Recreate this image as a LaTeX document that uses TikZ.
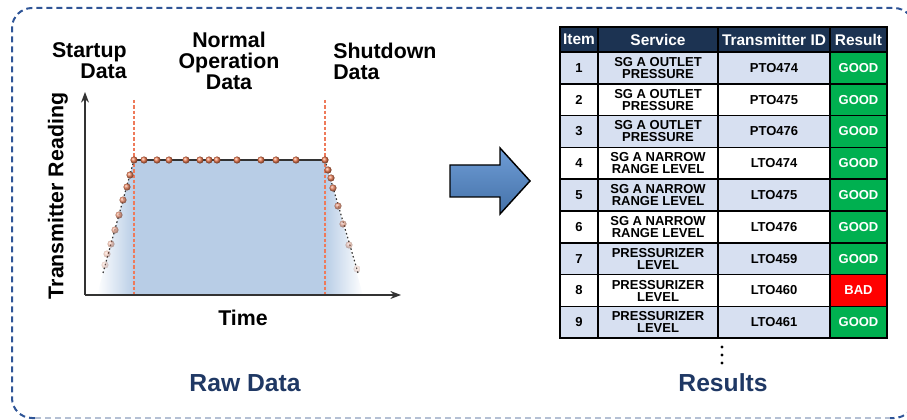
\documentclass[tikz,border=0pt]{standalone}
\usepackage{fontspec}
\setmainfont{Liberation Sans}
\usetikzlibrary{arrows.meta,shadings}
\definecolor{navy}{HTML}{1F3864}
\definecolor{frameblue}{HTML}{2F5597}
\definecolor{framegrey}{HTML}{B4C0D4}
\definecolor{headfill}{HTML}{1C3352}
\definecolor{rowblue}{HTML}{D7E0F1}
\definecolor{goodgreen}{HTML}{00B050}
\definecolor{badred}{HTML}{FF0000}
\definecolor{areablue}{HTML}{B8CDE6}
\definecolor{dotred}{HTML}{EE7A50}
\definecolor{cutred}{HTML}{EE7A5A}
\definecolor{arrowtop}{HTML}{6F9DD6}
\definecolor{arrowbot}{HTML}{4471A8}
\tikzset{
    >={Stealth[]},
    every picture/.style={line width=0.5pt},
    frame/.style={draw=frameblue,line width=1.5pt,dash pattern=on 4.5pt off 3pt},
    framelow/.style={draw=framegrey,line width=1pt,dash pattern=on 4.5pt off 3pt},
    axis/.style={draw=black!80,line width=1.1pt},
    cutline/.style={draw=cutred,line width=0.9pt,dash pattern=on 2.5pt off 1.5pt},
    trend/.style={draw=black!80,line width=0.9pt,dash pattern=on 1.2pt off 1.8pt},
    reading/.style={ball color=dotred},
    chartlabel/.style={inner sep=0pt,font=\fontsize{16}{15.75}\selectfont\bfseries},
    caption/.style={inner sep=0pt,text=navy,font=\fontsize{18.5}{20}\selectfont\bfseries},
    cell/.style={draw=black,line width=1.1pt,minimum height=23.85pt,inner sep=0pt,
        align=center,font=\fontsize{9.75}{9}\selectfont\bfseries},
    headcell/.style={cell,fill=headfill,text=white,minimum height=18.75pt,
        font=\fontsize{11.6}{12}\selectfont\bfseries},
    rescell/.style={cell,text=white}
}
\begin{document}
\begin{tikzpicture}[x=0.75pt,y=-0.75pt]
    \useasboundingbox (0,0) rectangle (907,420);
    % dashed frame
    \draw[frame,rounded corners=15pt] (35,418) -- (12,418) -- (12,8) -- (914,8) -- (914,418) -- (890,418);
    \draw[framelow] (35,418) -- (890,418);

    % chart areas
    \shade[left color=white,right color=areablue] (97,295) -- (134,160) -- (134,295) -- cycle;
    \fill[areablue] (134,160) rectangle (325,295);
    \shade[left color=areablue,right color=white] (325,160) -- (363,295) -- (325,295) -- cycle;
    \draw[cutline] (134,100) -- (134,295);
    \draw[cutline] (325,100) -- (325,295);

    % axes
    \coordinate (origin) at (85,295);
    \coordinate (ytop) at (85,92);
    \coordinate (xend) at (401,295);
    \draw[axis,->] (origin) -- (ytop);
    \draw[axis,->] (origin) -- (xend);

    % trend
    \coordinate (rampstart) at (103,273);
    \coordinate (platL) at (134,160);
    \coordinate (platR) at (325,160);
    \coordinate (rampend) at (358,273);
    \draw[trend] (rampstart) -- (platL);
    \draw[draw=black!80,line width=0.9pt] (platL) -- (platR);
    \draw[trend] (platR) -- (rampend);

    % readings
    \foreach \px/\py/\op in {105/265/0.25,107/254/0.35,111/244/0.45,115/230/0.6,119/215/0.72,
        123/200/0.82,127/187/0.9,130/175/0.95,
        328/170/1,331/178/0.95,333/188/0.9,338/206/0.75,343/224/0.55,349/245/0.4,357/269/0.2}
        \shade[reading,opacity=\op] (\px,\py) circle (2.7pt);
    \foreach \px in {134,144,157,169,186,200,209,217,237,261,276,296,325}
        \shade[reading] (\px,160) circle (2.7pt);

    % chart labels
    \node[chartlabel,anchor=east,align=right] (startup) at (127,61) {Startup\\Data};
    \node[chartlabel,align=center] (normal) at (229,61) {Normal\\Operation\\Data};
    \node[chartlabel,anchor=west,align=left] (shutdown) at (333,61) {Shutdown\\Data};
    \node[chartlabel,rotate=90] (reading) at (58,196) {Transmitter Reading};
    \node[chartlabel] (time) at (243,318) {Time};
    \node[caption] (rawdata) at (245,383) {Raw Data};

    % block arrow
    \draw[line width=1.1pt,top color=arrowtop,bottom color=arrowbot]
        (450,165) -- (500,165) -- (500,148) -- (530,181) -- (500,214) -- (500,197) -- (450,197) -- cycle;

    % results table
    \node[headcell,minimum width=28.5pt] (h-item) at (579,39.5) {Item};
    \node[headcell,minimum width=90pt] (h-svc) at (658,39.5) {Service};
    \node[headcell,minimum width=84pt] (h-tid) at (774,39.5) {Transmitter ID};
    \node[headcell,minimum width=42.75pt] (h-res) at (858.5,39.5) {Result};
    \foreach \i/\rowfill/\svc/\tid/\res/\resfill in {
        1/rowblue/{SG A OUTLET\\PRESSURE}/PTO474/GOOD/goodgreen,
        2/white/{SG A OUTLET\\PRESSURE}/PTO475/GOOD/goodgreen,
        3/rowblue/{SG A OUTLET\\PRESSURE}/PTO476/GOOD/goodgreen,
        4/white/{SG A NARROW\\RANGE LEVEL}/LTO474/GOOD/goodgreen,
        5/rowblue/{SG A NARROW\\RANGE LEVEL}/LTO475/GOOD/goodgreen,
        6/white/{SG A NARROW\\RANGE LEVEL}/LTO476/GOOD/goodgreen,
        7/rowblue/{PRESSURIZER\\LEVEL}/LTO459/GOOD/goodgreen,
        8/white/{PRESSURIZER\\LEVEL}/LTO460/BAD/badred,
        9/rowblue/{PRESSURIZER\\LEVEL}/LTO461/GOOD/goodgreen}{
        \node[cell,fill=\rowfill,minimum width=28.5pt] (item-\i) at (579,36.1+31.8*\i) {\i};
        \node[cell,fill=\rowfill,minimum width=90pt] (svc-\i) at (658,36.1+31.8*\i) {\svc};
        \node[cell,fill=\rowfill,minimum width=84pt] (tid-\i) at (774,36.1+31.8*\i) {\tid};
        \node[rescell,fill=\resfill,minimum width=42.75pt] (res-\i) at (858.5,36.1+31.8*\i) {\res};
    }
    \foreach \py in {347,355,363}
        \fill (722,\py) circle (1.3pt);
    \node[caption] (results) at (723,383) {Results};
\end{tikzpicture}
\end{document}
